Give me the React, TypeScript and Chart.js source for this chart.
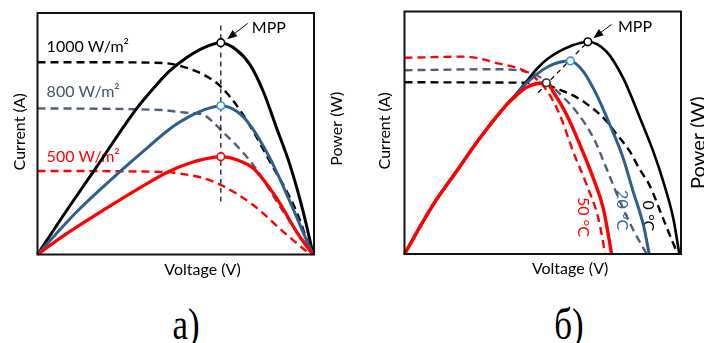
import React, { useEffect, useRef } from "react";
import { Chart, registerables } from "chart.js";

Chart.register(...registerables);

type Pair = [number, number];

// ---------------- Panel а: irradiance (normalised voltage 0..100, value 0..100) ----------------
const irradianceLabels = ["1000 W/m²", "800 W/m²", "500 W/m²"];

const powerA1000: Pair[] = [[0, 0], [10, 17.3], [20.2, 34.3], [35.9, 60.5], [43, 70.2], [48, 76.2], [54, 81.6], [60, 85.6], [66.3, 87.7], [72, 84.7], [76.9, 78.5], [81.7, 67.4], [86.5, 52.3], [91.3, 37.1], [96.1, 17.7], [99.7, 0]];
const powerA800: Pair[] = [[0, 0], [14.2, 17.7], [29.8, 34.3], [40, 44.5], [49, 53], [55, 57.2], [60, 59.8], [66.3, 61.6], [72, 59.3], [76.9, 53.6], [84.1, 39.8], [91.3, 21.9], [98.6, 2.6], [99.7, 0]];
const powerA500: Pair[] = [[0, 0], [10, 8.2], [25, 19.2], [37, 27.6], [47.9, 34.6], [56, 38.2], [60, 39.4], [66.3, 40.5], [72, 39.2], [78, 35.7], [86.5, 23.3], [93.7, 9.4], [99.5, 0]];

const currentA1000: Pair[] = [[0, 79.6], [22.6, 79.6], [45.4, 79.3], [50.3, 78.5], [54, 77.3], [60, 74.5], [66.3, 69.5], [74.4, 57.8], [84.1, 38.4], [93.7, 17.7], [99.2, 0]];
const currentA800: Pair[] = [[0, 60.5], [45.4, 59.8], [50.3, 59.1], [55, 58.6], [60, 57.8], [66.3, 51.6], [78, 37.1], [88.9, 17.7], [99.6, 0]];
const currentA500: Pair[] = [[0, 34.6], [45.4, 34.2], [50.3, 33.7], [60, 31.6], [66.3, 28.8], [78, 20.5], [88.9, 9.4], [98.6, 0]];

const mppPointsA: Pair[] = [[66.3, 87.7], [66.3, 61.6], [66.3, 40.5]];
const mppGuideA: Pair[] = [[66.3, 21.9], [66.3, 95]];

// ---------------- Panel б: temperature ----------------
const temperatureLabels = ["0 °C", "20 °C", "50 °C"];

const risingB: Pair[] = [[0, 0], [10.3, 20.2], [18.7, 33.9], [27.2, 47.7], [36.8, 61.4]];
const powerB0: Pair[] = [...risingB, [40, 65.5], [44, 71], [48, 76.5], [52, 80.7], [56, 83.6], [60, 85.7], [66.3, 87.5], [73.1, 83.4], [79.1, 72.5], [85.2, 56], [90, 42.2], [93.6, 29.8], [97.2, 14.7], [99.4, 0]];
const powerB20: Pair[] = [...risingB, [40, 65.3], [44, 70.3], [48, 74.3], [52, 77.3], [56, 79.1], [60, 79.6], [64.7, 75.2], [69.5, 65.6], [74.3, 53.2], [79.1, 39.5], [82.7, 25.7], [86.4, 12], [88.5, 0]];
const powerB50: Pair[] = [...risingB, [40, 64.9], [44, 68.6], [48, 70.3], [51.3, 70.6], [53.8, 66.9], [58.7, 57.3], [63.5, 44.9], [68.3, 31.2], [71.9, 18.8], [74.9, 0]];

const currentB0: Pair[] = [[0, 70.8], [46, 70.6], [52, 69.5], [56, 67.8], [61, 65.4], [66, 61.8], [72.4, 55.6], [77, 49], [81.4, 42.5], [85, 35], [88.6, 28.4], [93.4, 15], [98.5, 1], [99, 0]];
const currentB20: Pair[] = [[0, 75.8], [33.8, 76.2], [43.6, 75.2], [49.7, 72.5], [56.2, 66], [62.3, 58.5], [68.5, 47.5], [73.5, 34], [78, 21.5], [82.7, 10], [87.6, 0]];
const currentB50: Pair[] = [[0, 80.9], [21.8, 81.4], [33.8, 78.6], [43.5, 75.4], [50.9, 68.3], [56.2, 57.3], [61, 42.2], [65.9, 28.5], [70.1, 14.7], [72.6, 0]];

const mppPointsB: Pair[] = [[66.3, 87.5], [60, 79.6], [51.3, 70.6]];
const mppLocusB: Pair[] = [[48.3, 66.5], [66.3, 87.5]];

const axisTitles = { voltage: "Voltage (V)", current: "Current (A)", power: "Power (W)" };
const mppText = "MPP";
const captions = ["а)", "б)"];

// ---------------- styling ----------------
const BLACK = "#000000";
const BLUE = "#2f5e8c";
const BLUE_DASH = "#4f5e76";
const BLUE_TEXT = "#44546a";
const BLUE_MARK = "#3399dd";
const RED = "#ff0000";
const FONT = 'Lato, "Open Sans", sans-serif';

const pts = (p: Pair[]) => p.map(([x, y]) => ({ x, y }));

const solid = (color: string, p: Pair[], w = 3) => ({
  data: pts(p),
  borderColor: color,
  borderWidth: w,
  pointRadius: 0,
  cubicInterpolationMode: "monotone",
  fill: false,
  clip: false,
});
const dashed = (color: string, p: Pair[], w = 2.4, dash = [8, 5]) => ({
  ...solid(color, p, w),
  borderDash: dash,
});
const markers = (p: Pair[], colors: string[]) => ({
  data: pts(p),
  showLine: false,
  pointRadius: 3.8,
  pointHoverRadius: 3.8,
  pointBorderWidth: 1.6,
  pointBackgroundColor: "#ffffff",
  pointBorderColor: colors,
  clip: false,
});

type Label = { text: string; x: number; y: number; color: string; rot?: number; align?: CanvasTextAlign; size?: number };
type DecorCfg = {
  labels: Label[];
  arrowFrom: Pair;
  arrowTo: Pair;
  mpp: Pair;
  currentDx: number;
  currentDy: number;
  powerDx: number;
  powerDy: number;
  powerSize: number;
  voltageX: number;
  voltageDy: number;
};

function drawText(ctx: CanvasRenderingContext2D, text: string, x: number, y: number, color: string, size: number, align: CanvasTextAlign = "left", rot = 0) {
  ctx.save();
  ctx.translate(x, y);
  if (rot) ctx.rotate(rot);
  ctx.font = `${size}px ${FONT}`;
  ctx.fillStyle = color;
  ctx.textAlign = align;
  ctx.textBaseline = "middle";
  ctx.fillText(text, 0, 0);
  ctx.restore();
}

function makeDecor(cfg: DecorCfg) {
  return {
    id: "decor",
    beforeDatasetsDraw(chart: any) {
      const { ctx, scales } = chart;
      const sx = scales.x, sy = scales.y;
      cfg.labels.forEach((l) =>
        drawText(ctx, l.text, sx.getPixelForValue(l.x), sy.getPixelForValue(l.y), l.color, l.size ?? 16, l.align ?? "left", l.rot ?? 0)
      );
    },
    afterDatasetsDraw(chart: any) {
      const { ctx, chartArea: a, scales } = chart;
      const sx = scales.x, sy = scales.y;
      // frame
      ctx.save();
      ctx.strokeStyle = "#111";
      ctx.lineWidth = 2;
      ctx.strokeRect(a.left, a.top, a.right - a.left, a.bottom - a.top);
      ctx.restore();
      // arrow to MPP
      const x1 = sx.getPixelForValue(cfg.arrowFrom[0]), y1 = sy.getPixelForValue(cfg.arrowFrom[1]);
      const x2 = sx.getPixelForValue(cfg.arrowTo[0]), y2 = sy.getPixelForValue(cfg.arrowTo[1]);
      const ang = Math.atan2(y2 - y1, x2 - x1);
      ctx.save();
      ctx.strokeStyle = "#000";
      ctx.fillStyle = "#000";
      ctx.lineWidth = 1;
      ctx.beginPath();
      ctx.moveTo(x1, y1);
      ctx.lineTo(x2 - 6 * Math.cos(ang), y2 - 6 * Math.sin(ang));
      ctx.stroke();
      ctx.beginPath();
      ctx.moveTo(x2, y2);
      ctx.lineTo(x2 - 10 * Math.cos(ang) + 4 * Math.sin(ang), y2 - 10 * Math.sin(ang) - 4 * Math.cos(ang));
      ctx.lineTo(x2 - 10 * Math.cos(ang) - 4 * Math.sin(ang), y2 - 10 * Math.sin(ang) + 4 * Math.cos(ang));
      ctx.closePath();
      ctx.fill();
      ctx.restore();
      drawText(ctx, mppText, sx.getPixelForValue(cfg.mpp[0]), sy.getPixelForValue(cfg.mpp[1]), "#000", 16);
      // axis titles
      const midY = (a.top + a.bottom) / 2;
      drawText(ctx, axisTitles.current, a.left + cfg.currentDx, midY + cfg.currentDy, "#000", 16, "center", -Math.PI / 2);
      drawText(ctx, axisTitles.power, a.right + cfg.powerDx, midY + cfg.powerDy, "#000", cfg.powerSize, "center", -Math.PI / 2);
      drawText(ctx, axisTitles.voltage, sx.getPixelForValue(cfg.voltageX), a.bottom + cfg.voltageDy, "#000", 16, "center");
    },
  };
}

function Panel(props: { left: number; padding: any; datasets: any[]; decor: any }) {
  const ref = useRef<HTMLCanvasElement>(null);
  useEffect(() => {
    const chart = new Chart(ref.current as HTMLCanvasElement, {
      type: "line",
      data: { datasets: props.datasets },
      options: {
        responsive: false,
        maintainAspectRatio: false,
        animation: false,
        events: [],
        layout: { padding: props.padding },
        plugins: { legend: { display: false }, tooltip: { enabled: false } },
        scales: {
          x: { type: "linear", min: 0, max: 100, display: false },
          y: { type: "linear", min: 0, max: 100, display: false },
        },
      } as any,
      plugins: [props.decor],
    });
    return () => chart.destroy();
  }, []);
  return (
    <canvas
      ref={ref}
      width={352}
      height={290}
      style={{ position: "absolute", left: props.left, top: 0, width: 352, height: 290 }}
    />
  );
}

const datasetsA = [
  markers(mppPointsA, [BLACK, BLUE_MARK, RED]),
  dashed(BLACK, mppGuideA, 1.2, [5, 4]),
  solid(RED, powerA500, 3.2),
  solid(BLUE, powerA800, 3),
  solid(BLACK, powerA1000, 3),
  dashed(RED, currentA500),
  dashed(BLUE_DASH, currentA800),
  dashed(BLACK, currentA1000),
];

const datasetsB = [
  markers(mppPointsB, [BLACK, BLUE_MARK, "#333333"]),
  dashed(BLACK, mppLocusB, 1.2, [5, 4]),
  solid(RED, powerB50, 3.4),
  solid(BLUE, powerB20, 3),
  solid(BLACK, powerB0, 2.6),
  dashed(RED, currentB50),
  dashed(BLUE_DASH, currentB20),
  dashed(BLACK, currentB0),
];

const decorA = makeDecor({
  labels: [
    { text: irradianceLabels[0], x: 3.3, y: 86, color: BLACK },
    { text: irradianceLabels[1], x: 3.3, y: 67.4, color: BLUE_TEXT },
    { text: irradianceLabels[2], x: 3.3, y: 40.5, color: RED },
  ],
  arrowFrom: [76, 95.7],
  arrowTo: [68.6, 89.1],
  mpp: [77.5, 93.7],
  currentDx: -17.5,
  currentDy: -2,
  powerDx: 23,
  powerDy: -5,
  powerSize: 16,
  voltageX: 59.7,
  voltageDy: 15.5,
});

const decorB = makeDecor({
  labels: [
    { text: temperatureLabels[0], x: 88.2, y: 15.7, color: BLACK, align: "center", rot: Math.PI / 2 },
    { text: temperatureLabels[1], x: 78.6, y: 18.1, color: "#3b64a0", align: "center", rot: Math.PI / 2 },
    { text: temperatureLabels[2], x: 64.6, y: 15.3, color: RED, align: "center", rot: Math.PI / 2 },
  ],
  arrowFrom: [74.9, 94.7],
  arrowTo: [68.3, 89],
  mpp: [77.2, 93.7],
  currentDx: -19.5,
  currentDy: -2,
  powerDx: 18,
  powerDy: 10,
  powerSize: 20,
  voltageX: 59.9,
  voltageDy: 15,
});

const captionStyle = (center: number): React.CSSProperties => ({
  position: "absolute",
  left: center - 50,
  width: 100,
  top: 305.5,
  textAlign: "center",
  fontFamily: '"Times New Roman", "Liberation Serif", "DejaVu Serif", serif',
  fontSize: 38,
  lineHeight: "40px",
  color: "#000",
  transform: "scale(0.92, 1.18)",
  transformOrigin: "50% 33.5px",
  whiteSpace: "nowrap",
});

export default function App() {
  return (
    <div
      style={{
        position: "fixed",
        left: 0,
        top: 0,
        width: 704,
        height: 343,
        background: "#ffffff",
        overflow: "hidden",
      }}
    >
      <Panel left={0} padding={{ left: 37.5, top: 13, right: 38, bottom: 35.5 }} datasets={datasetsA} decor={decorA} />
      <Panel left={352} padding={{ left: 52.5, top: 11.5, right: 23, bottom: 36 }} datasets={datasetsB} decor={decorB} />
      <div style={captionStyle(186)}>{captions[0]}</div>
      <div style={captionStyle(569)}>{captions[1]}</div>
    </div>
  );
}
